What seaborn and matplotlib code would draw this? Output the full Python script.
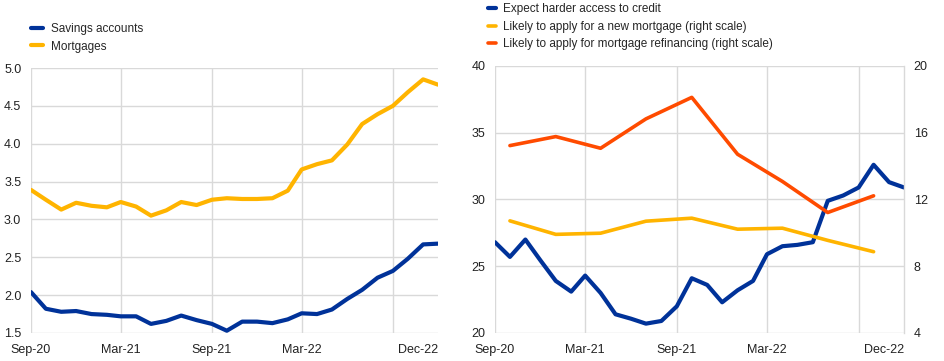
import pandas as pd
import matplotlib.pyplot as plt
import seaborn as sns

# ---- data ----
months = pd.date_range("2020-09-01", periods=28, freq="MS")
savings = [2.04, 1.82, 1.78, 1.79, 1.75, 1.74, 1.72, 1.72, 1.62, 1.66, 1.73, 1.67,
           1.62, 1.53, 1.65, 1.65, 1.63, 1.68, 1.76, 1.75, 1.81, 1.95, 2.07, 2.23,
           2.32, 2.48, 2.67, 2.68]
mortgages = [3.39, 3.26, 3.13, 3.22, 3.18, 3.16, 3.23, 3.17, 3.05, 3.12, 3.23, 3.19,
             3.26, 3.28, 3.27, 3.27, 3.28, 3.38, 3.66, 3.73, 3.78, 3.99, 4.26, 4.39,
             4.50, 4.68, 4.85, 4.78]

harder_access = [26.8, 25.7, 27.0, 25.45, 23.9, 23.1, 24.3, 23.0, 21.4, 21.07, 20.7, 20.9,
                 22.0, 24.1, 23.6, 22.3, 23.2, 23.9, 25.9, 26.5, 26.6, 26.8, 29.9, 30.3,
                 30.9, 32.6, 31.3, 30.9]

quarters = pd.to_datetime(["2020-10-01", "2021-01-01", "2021-04-01", "2021-07-01",
                           "2021-10-01", "2022-01-01", "2022-04-01", "2022-07-01",
                           "2022-10-01"])
new_mortgage = [10.72, 9.91, 9.98, 10.70, 10.88, 10.22, 10.28, 9.55, 8.87]
refinancing = [15.23, 15.77, 15.07, 16.83, 18.12, 14.71, 13.08, 11.22, 12.22]

grid_ticks = pd.to_datetime(["2020-09-01", "2021-03-01", "2021-09-01", "2022-03-01", "2022-09-01"])
grid_labels = ["Sep-20", "Mar-21", "Sep-21", "Mar-22", ""]
end_tick = pd.to_datetime(["2022-12-01"])

BLUE = "#003299"
YELLOW = "#FFB400"
ORANGE = "#FF4B00"
GRID = "#D9D9D9"

sns.set_style("white")
plt.rcParams["font.family"] = ["Liberation Sans", "DejaVu Sans"]
plt.rcParams["font.size"] = 9

fig = plt.figure(figsize=(9.45, 3.61), dpi=100)
ax1 = fig.add_axes([0.0328, 0.0776, 0.4307, 0.734])
ax2 = fig.add_axes([0.5238, 0.0776, 0.4328, 0.7396])
ax3 = ax2.twinx()


def style_axis(ax):
    ax.set_xlim(months[0], months[-1])
    ax.set_xticks(grid_ticks)
    ax.set_xticklabels(grid_labels)
    ax.set_xticks(end_tick, minor=True)
    ax.set_xticklabels(["Dec-22"], minor=True, ha="right")
    ax.tick_params(axis="both", which="both", length=0, labelsize=9,
                   colors="#222222", pad=7)
    ax.tick_params(axis="x", which="both", pad=8)
    ax.grid(True, which="major", color=GRID, lw=1)
    ax.set_xlabel("")
    ax.set_ylabel("")
    for s in ax.spines.values():
        s.set_visible(False)


# ---- left panel ----
left = pd.DataFrame({"date": list(months) * 2,
                     "value": savings + mortgages,
                     "series": ["Savings accounts"] * 28 + ["Mortgages"] * 28})
sns.lineplot(data=left, x="date", y="value", hue="series",
             palette=[BLUE, YELLOW], lw=3, ax=ax1, legend=False)
ax1.set_ylim(1.5, 5.0)
ax1.set_yticks([1.5, 2.0, 2.5, 3.0, 3.5, 4.0, 4.5, 5.0])
ax1.set_yticklabels(["1.5", "2.0", "2.5", "3.0", "3.5", "4.0", "4.5", "5.0"])
style_axis(ax1)
ax1.legend(ax1.get_lines()[:2], ["Savings accounts", "Mortgages"],
           loc="upper left", bbox_to_anchor=(0.022, 0.965), bbox_transform=fig.transFigure,
           frameon=False, handlelength=1.0, handletextpad=0.7, labelspacing=0.45,
           fontsize=8.5)

# ---- right panel ----
sns.lineplot(x=months, y=harder_access, color=BLUE, lw=3, ax=ax2)
ax2.set_ylim(20, 40)
ax2.set_yticks([20, 25, 30, 35, 40])
style_axis(ax2)

right = pd.DataFrame({"date": list(quarters) * 2,
                      "value": new_mortgage + refinancing,
                      "series": ["new"] * 9 + ["refi"] * 9})
sns.lineplot(data=right, x="date", y="value", hue="series",
             palette=[YELLOW, ORANGE], lw=2.6, ax=ax3, legend=False)
ax3.set_ylim(4, 20)
ax3.set_yticks([4, 8, 12, 16, 20])
ax3.set_xlim(months[0], months[-1])
ax3.tick_params(axis="y", length=0, labelsize=9, colors="#222222", pad=7)
ax3.set_ylabel("")
for name, s in ax3.spines.items():
    s.set_visible(name == "right")
ax3.spines["right"].set_color(GRID)
ax3.spines["right"].set_linewidth(1)

handles = [ax2.get_lines()[0]] + ax3.get_lines()[:2]
ax2.legend(handles, ["Expect harder access to credit",
                     "Likely to apply for a new mortgage (right scale)",
                     "Likely to apply for mortgage refinancing (right scale)"],
           loc="upper left", bbox_to_anchor=(0.505, 1.02), bbox_transform=fig.transFigure,
           frameon=False, handlelength=0.7, handletextpad=0.6, labelspacing=0.45,
           fontsize=8.5)

fig.savefig("out.png", dpi=100)
plt.close(fig)
